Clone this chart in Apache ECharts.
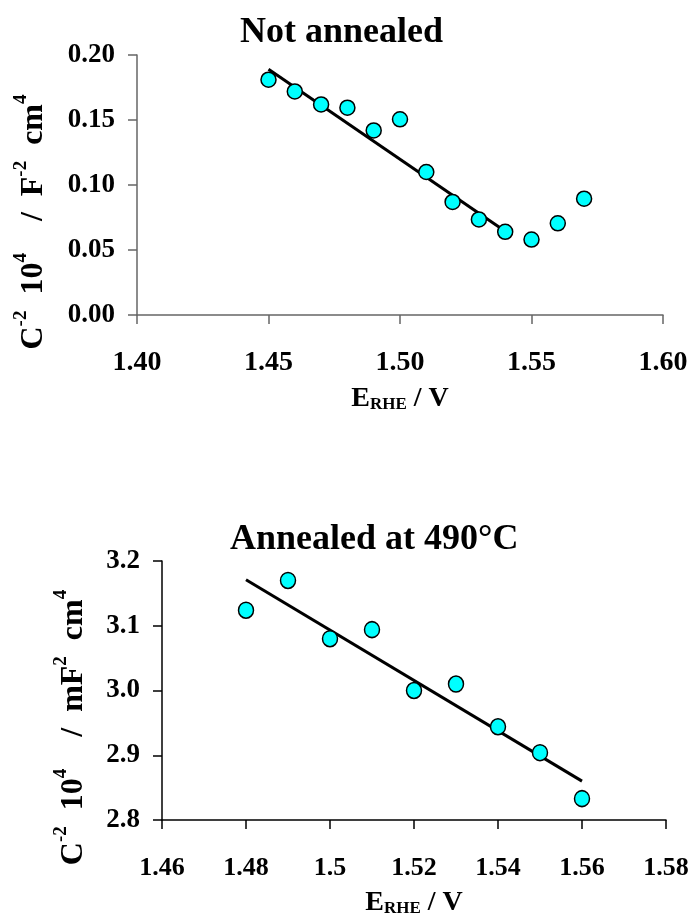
<!DOCTYPE html>
<html>
<head>
<meta charset="utf-8">
<script src="https://cdn.jsdelivr.net/npm/echarts@6/dist/echarts.min.js"></script>
<style>
html,body{margin:0;padding:0;background:#fff;}
#main{width:691px;height:913px;}
</style>
</head>
<body>
<div id="main"></div>
<script>
// ---- Data ----
const titleTop = 'Not annealed';
const titleBottom = 'Annealed at 490°C';

const xTicksTop = [1.40, 1.45, 1.50, 1.55, 1.60];
const yTicksTop = [0.00, 0.05, 0.10, 0.15, 0.20];
const xTop = [1.45, 1.46, 1.47, 1.48, 1.49, 1.50, 1.51, 1.52, 1.53, 1.54, 1.55, 1.56, 1.57];
const yTop = [0.181, 0.172, 0.162, 0.1595, 0.142, 0.1505, 0.110, 0.087, 0.0735, 0.064, 0.058, 0.0705, 0.0895];
const fitXTop = [1.45, 1.54];
const fitYTop = [0.189, 0.0645];

const xTicksBottom = [1.46, 1.48, 1.50, 1.52, 1.54, 1.56, 1.58];
const yTicksBottom = [2.8, 2.9, 3.0, 3.1, 3.2];
const xBottom = [1.48, 1.49, 1.50, 1.51, 1.52, 1.53, 1.54, 1.55, 1.56];
const yBottom = [3.124, 3.170, 3.080, 3.094, 3.000, 3.010, 2.944, 2.904, 2.833];
const fitXBottom = [1.48, 1.56];
const fitYBottom = [3.171, 2.860];

// ---- Build ----
const pairs = (xs, ys) => xs.map((x, i) => [x, ys[i]]);
const FONT = '"Liberation Serif", "Times New Roman", serif';
const step = a => +(a[1] - a[0]).toFixed(6);

const nameRich = {
  b: { fontFamily: FONT, fontWeight: 'bold', fontSize: 32, lineHeight: 38, color: '#000', verticalAlign: 'bottom' },
  s: { fontFamily: FONT, fontWeight: 'bold', fontSize: 19, lineHeight: 19, color: '#000', verticalAlign: 'top' }
};
const xNameRich = {
  b: { fontFamily: FONT, fontWeight: 'bold', fontSize: 28, lineHeight: 31, color: '#000', verticalAlign: 'bottom' },
  sub: { fontFamily: FONT, fontWeight: 'bold', fontSize: 17, lineHeight: 17, color: '#000', verticalAlign: 'bottom' }
};

function xAxis(gridIndex, ticks, decimals, color, labelSize, labelMargin, nameGap) {
  return {
    type: 'value', gridIndex,
    min: ticks[0], max: ticks[ticks.length - 1], interval: step(ticks),
    name: '{b|E}{sub|RHE}{b| / V}', nameLocation: 'middle', nameGap,
    nameTextStyle: { rich: xNameRich },
    axisLine: { show: true, onZero: false, lineStyle: { color, width: 1.5 } },
    axisTick: { show: true, inside: false, length: 9, lineStyle: { color, width: 1.5 } },
    axisLabel: {
      margin: labelMargin, color: '#000', fontFamily: FONT, fontWeight: 'bold', fontSize: labelSize,
      formatter: v => decimals === null ? String(+v.toFixed(2)) : v.toFixed(decimals)
    },
    splitLine: { show: false }
  };
}
function yAxis(gridIndex, ticks, decimals, color, name, gap) {
  return {
    type: 'value', gridIndex,
    min: ticks[0], max: ticks[ticks.length - 1], interval: step(ticks),
    name, nameLocation: 'middle', nameGap: gap, nameRotate: 90,
    nameTextStyle: { rich: nameRich, padding: [0, 74, 0, 0] },
    axisLine: { show: true, onZero: false, lineStyle: { color, width: 1.5 } },
    axisTick: { show: true, inside: false, length: 9, lineStyle: { color, width: 1.5 } },
    axisLabel: {
      margin: 22, color: '#000', fontFamily: FONT, fontWeight: 'bold', fontSize: 27,
      formatter: v => v.toFixed(decimals)
    },
    splitLine: { show: false }
  };
}
const scatterStyle = { color: '#00FFFF', borderColor: '#000', borderWidth: 1.5, opacity: 1 };

const option = {
  backgroundColor: '#fff',
  animation: false,
  title: [
    { text: titleTop, left: 240, top: 15, padding: 0,
      textStyle: { fontFamily: FONT, fontWeight: 'bold', fontSize: 36, color: '#000' } },
    { text: titleBottom, left: 230, top: 522, padding: 0,
      textStyle: { fontFamily: FONT, fontWeight: 'bold', fontSize: 36, color: '#000' } }
  ],
  grid: [
    { left: 137, top: 55, width: 526, height: 260, containLabel: false, outerBoundsMode: 'none' },
    { left: 162, top: 561, width: 504, height: 259, containLabel: false, outerBoundsMode: 'none' }
  ],
  xAxis: [
    xAxis(0, xTicksTop, 2, '#666', 28, 34, 67),
    xAxis(1, xTicksBottom, null, '#000', 26, 35, 66)
  ],
  yAxis: [
    yAxis(0, yTicksTop, 2, '#666', '{b|C}{s|-2}{b|  10}{s|4}{b|    /  F}{s|-2}{b|  cm}{s|4}', 87),
    yAxis(1, yTicksBottom, 1, '#000', '{b|C}{s|-2}{b|  10}{s|4}{b|    /  mF}{s|2}{b|  cm}{s|4}', 72)
  ],
  series: [
    { type: 'line', xAxisIndex: 0, yAxisIndex: 0, data: pairs(fitXTop, fitYTop),
      showSymbol: false, lineStyle: { color: '#000', width: 3 }, z: 2 },
    { type: 'scatter', xAxisIndex: 0, yAxisIndex: 0, data: pairs(xTop, yTop),
      symbol: 'circle', symbolSize: 15, itemStyle: scatterStyle, z: 3 },
    { type: 'line', xAxisIndex: 1, yAxisIndex: 1, data: pairs(fitXBottom, fitYBottom),
      showSymbol: false, lineStyle: { color: '#000', width: 3 }, z: 2 },
    { type: 'scatter', xAxisIndex: 1, yAxisIndex: 1, data: pairs(xBottom, yBottom),
      symbol: 'circle', symbolSize: [15, 16], itemStyle: scatterStyle, z: 3 }
  ]
};
const chart = echarts.init(document.getElementById('main'), null, { renderer: 'canvas' });
chart.setOption(option);
</script>
</body>
</html>
